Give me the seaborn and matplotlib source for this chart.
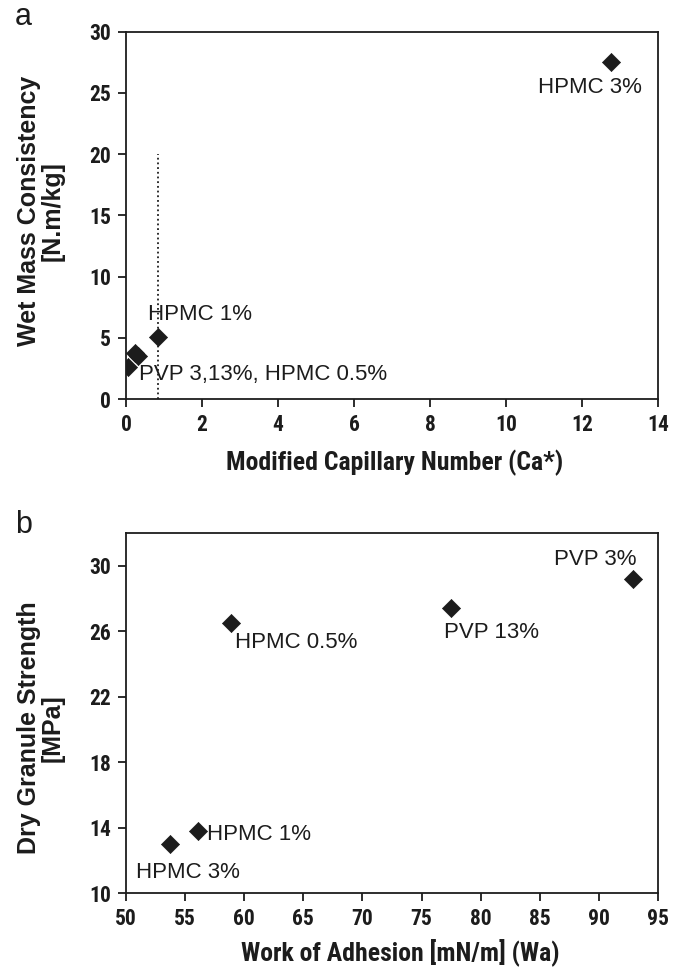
import matplotlib
matplotlib.use("Agg")
import matplotlib.pyplot as plt
import seaborn as sns
import pandas as pd

# Panel a: wet mass consistency vs modified capillary number
ca_star = [0.06, 0.23, 0.32, 0.83, 12.77]
wet_mass = [2.6, 3.75, 3.5, 5.1, 27.55]
ca_threshold = 0.83
threshold_span = [0, 20]
labels_a = ["HPMC 3%", "HPMC 1%", "PVP 3,13%, HPMC 0.5%"]
labels_a_pos = [(12.22, 25.0, "center"), (0.58, 6.45, "left"), (0.34, 1.55, "left")]

# Panel b: dry granule strength vs work of adhesion
work_adhesion = [58.9, 77.5, 92.9, 56.1, 53.7]
granule_strength = [26.5, 27.4, 29.2, 13.8, 13.0]
labels_b = ["HPMC 0.5%", "PVP 13%", "PVP 3%", "HPMC 1%", "HPMC 3%"]
labels_b_pos = [(59.25, 24.97, "left"), (80.9, 25.58, "center"), (89.66, 30.04, "center"),
                (56.88, 13.22, "left"), (50.85, 10.89, "left")]

xticks_a = [0, 2, 4, 6, 8, 10, 12, 14]
yticks_a = [0, 5, 10, 15, 20, 25, 30]
xticks_b = [50, 55, 60, 65, 70, 75, 80, 85, 90, 95]
yticks_b = [10, 14, 18, 22, 26, 30]

sns.set_theme(style="ticks")
narrow = ["Roboto Condensed", "DejaVu Sans"]
wide = ["Liberation Sans", "DejaVu Sans"]
plt.rcParams["font.family"] = wide
ink = "#1c1c1c"
plt.rcParams["axes.linewidth"] = 1.3
plt.rcParams["xtick.major.width"] = 1.3
plt.rcParams["ytick.major.width"] = 1.3
plt.rcParams["xtick.major.size"] = 6
plt.rcParams["ytick.major.size"] = 6

fig = plt.figure(figsize=(6.84, 9.67), dpi=100)
ax1 = fig.add_axes([126 / 684, 1 - 399 / 967, 532 / 684, 367.3 / 967])
ax2 = fig.add_axes([126 / 684, 1 - 893 / 967, 532 / 684, 360 / 967])

dfa = pd.DataFrame({"ca": ca_star, "wm": wet_mass})
dfb = pd.DataFrame({"wa": work_adhesion, "gs": granule_strength})

ax1.plot([ca_threshold, ca_threshold], threshold_span, linestyle=(0, (1.0, 1.6)),
         color=ink, linewidth=1.3, zorder=1)
sns.scatterplot(data=dfa, x="ca", y="wm", marker="D", s=85, color=ink,
                edgecolor=ink, linewidth=0.5, ax=ax1, zorder=3)
sns.scatterplot(data=dfb, x="wa", y="gs", marker="D", s=85, color=ink,
                edgecolor=ink, linewidth=0.5, ax=ax2, zorder=3)

ax1.set_xlim(0, 14)
ax1.set_ylim(0, 30)
ax2.set_xlim(50, 95)
ax2.set_ylim(10, 32)

for ax, xt, yt in [(ax1, xticks_a, yticks_a), (ax2, xticks_b, yticks_b)]:
    ax.set_xticks(xt)
    ax.set_yticks(yt)
    ax.set_xticklabels([str(v) for v in xt], family=narrow, fontweight="bold", fontsize=15.5)
    ax.set_yticklabels([str(v) for v in yt], family=narrow, fontweight="bold", fontsize=15.5)
    ax.tick_params(axis="x", colors=ink, pad=5)
    ax.tick_params(axis="y", colors=ink, pad=5)
    for sp in ax.spines.values():
        sp.set_color(ink)

for txt, (x, y, ha) in zip(labels_a, labels_a_pos):
    ax1.text(x, y, txt, ha=ha, va="baseline", fontsize=16, color=ink)
for txt, (x, y, ha) in zip(labels_b, labels_b_pos):
    ax2.text(x, y, txt, ha=ha, va="baseline", fontsize=16, color=ink)

ax1.set_xlabel("Modified Capillary Number (Ca*)", fontsize=18.5, fontweight="bold",
               family=narrow, color=ink, va="center")
ax1.xaxis.set_label_coords(0.504, -0.174)
ax2.set_xlabel("Work of Adhesion [mN/m] (Wa)", fontsize=18.5, fontweight="bold",
               family=narrow, color=ink, va="center")
ax2.xaxis.set_label_coords(0.515, -0.167)

ax1.set_ylabel("Wet Mass Consistency\n[N.m/kg]", fontsize=18, fontweight="bold",
               color=ink, linespacing=1.0, va="center")
ax1.yaxis.set_label_coords(-0.160, 0.512)
ax2.set_ylabel("Dry Granule Strength\n[MPa]", fontsize=18, fontweight="bold",
               color=ink, linespacing=1.0, va="center")
ax2.yaxis.set_label_coords(-0.160, 0.458)

fig.text(15 / 684, 1 - 25 / 967, "a", fontsize=22, va="baseline", ha="left", color=ink)
fig.text(15 / 684, 1 - 533 / 967, "b", fontsize=22, va="baseline", ha="left", color=ink)

fig.savefig("out.png", dpi=100, facecolor="white")
